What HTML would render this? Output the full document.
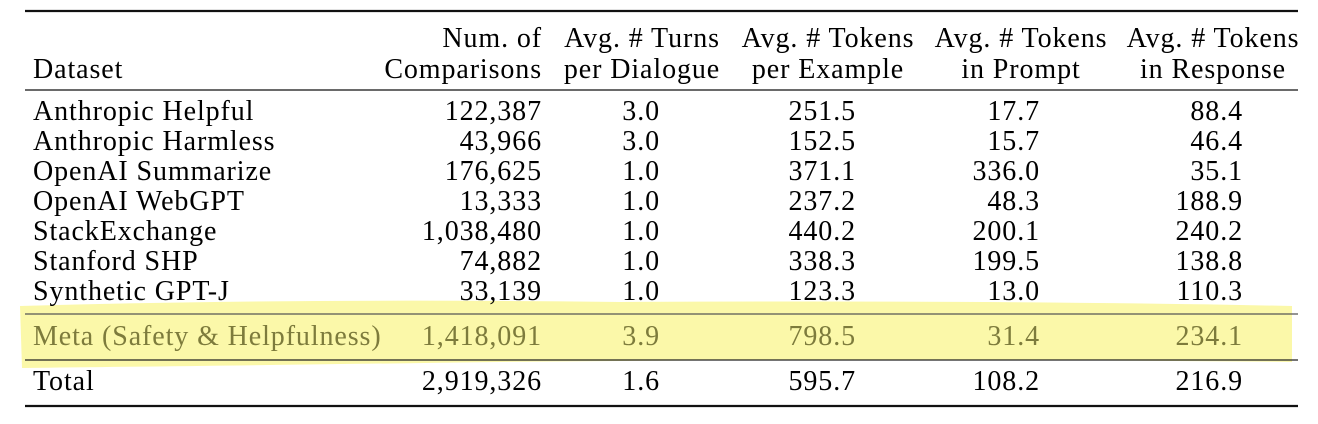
<!DOCTYPE html>
<html><head><meta charset="utf-8"><style>
html,body{margin:0;padding:0;background:#fff;}
svg{display:block;font-family:"Liberation Serif",serif;}
text{font-size:28px;fill:#000;letter-spacing:0.9px;}
</style></head><body>
<svg id="t" width="1318" height="424">
<path d="M20 306 Q300 298 620 302 Q1000 300 1292 306 L1292 362 Q900 358 500 362 Q200 366 22 368 Z" fill="#fbf7a0" opacity="0.9"/>
<line x1="25" y1="11" x2="1298" y2="11" stroke="#111" stroke-width="2.2"/>
<line x1="25" y1="90" x2="1298" y2="90" stroke="#111" stroke-width="1.2"/>
<line x1="25" y1="314" x2="1298" y2="314" stroke="#555" stroke-width="1.2"/>
<line x1="25" y1="360" x2="1298" y2="360" stroke="#222" stroke-width="1.2"/>
<line x1="25" y1="406" x2="1298" y2="406" stroke="#111" stroke-width="2.2"/>
</svg>
<script>
const headers1 = ["", "Num. of", "Avg. # Turns", "Avg. # Tokens", "Avg. # Tokens", "Avg. # Tokens"];
const headers2 = ["Dataset", "Comparisons", "per Dialogue", "per Example", "in Prompt", "in Response"];
const datasets = ["Anthropic Helpful","Anthropic Harmless","OpenAI Summarize","OpenAI WebGPT","StackExchange","Stanford SHP","Synthetic GPT-J","Meta (Safety & Helpfulness)","Total"];
const comparisons = ["122,387","43,966","176,625","13,333","1,038,480","74,882","33,139","1,418,091","2,919,326"];
const turns = ["3.0","3.0","1.0","1.0","1.0","1.0","1.0","3.9","1.6"];
const tokensExample = ["251.5","152.5","371.1","237.2","440.2","338.3","123.3","798.5","595.7"];
const tokensPrompt = ["17.7","15.7","336.0","48.3","200.1","199.5","13.0","31.4","108.2"];
const tokensResponse = ["88.4","46.4","35.1","188.9","240.2","138.8","110.3","234.1","216.9"];
const svg = document.getElementById('t');
const NS = "http://www.w3.org/2000/svg";
function txt(s, x, y, anchor, color, name){
  const e = document.createElementNS(NS,'text');
  e.setAttribute('x',x); e.setAttribute('y',y);
  e.setAttribute('text-anchor',anchor);
  if(color) e.style.fill=color;
  e.textContent = s;
  
  
  svg.appendChild(e);
}
const hx = [33,542,642,828,1021,1213];
const ha = ["start","end","middle","middle","middle","middle"];
headers1.forEach((h,i)=>{ if(h) txt(h,hx[i],47,ha[i],null,'column-header'); });
headers2.forEach((h,i)=>{ txt(h,hx[i],78,ha[i],null,'column-header'); });
const rowY = [120,150,180,210,240,270,300,345,390];
const cols = [datasets,comparisons,turns,tokensExample,tokensPrompt,tokensResponse];
const cx = [33,542,660,856,1040,1243];
const ca = ["start","end","end","end","end","end"];
datasets.forEach((d,r)=>{
  const color = r===7 ? "#7d7b3c" : null;
  cols.forEach((c,i)=>{ txt(c[r],cx[i],rowY[r],ca[i],color, i===0?'dataset-name':'table-cell'); });
});
</script>
</body></html>
